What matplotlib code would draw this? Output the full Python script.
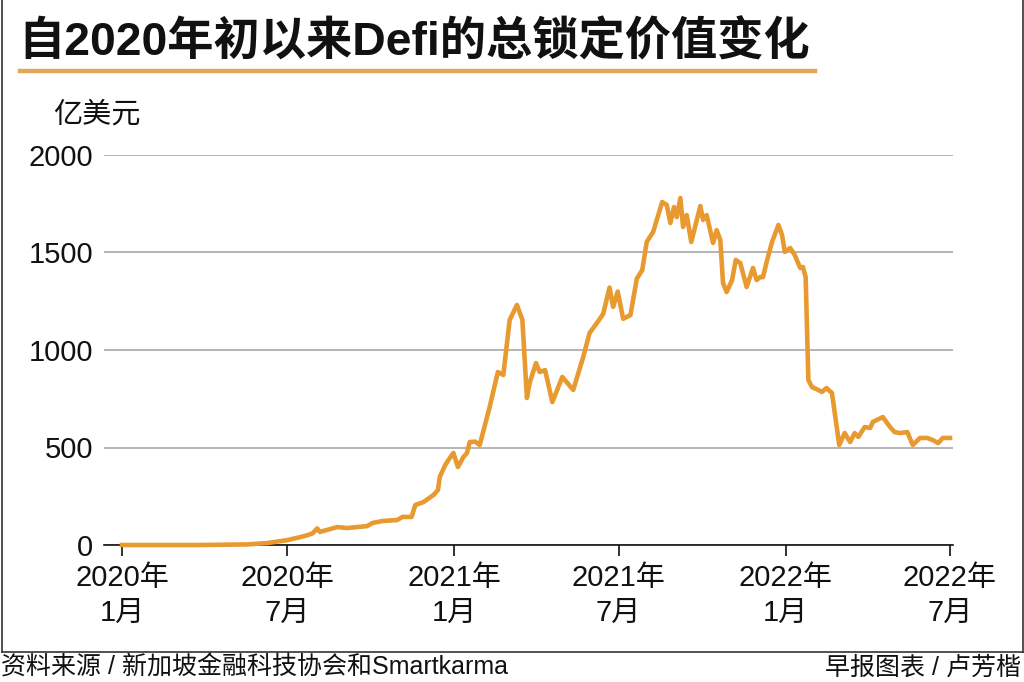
import matplotlib
matplotlib.use("Agg")
import matplotlib.pyplot as plt
from matplotlib.lines import Line2D
import pandas as pd

plt.rcParams['font.family'] = ['Liberation Sans', 'Noto Sans CJK SC', 'DejaVu Sans']

title = "自2020年初以来Defi的总锁定价值变化"
unit_label = "亿美元"
source_text = "资料来源 / 新加坡金融科技协会和Smartkarma"
credit_text = "早报图表 / 卢芳楷"

dates = [
    "2020-01-01", "2020-03-27", "2020-05-18", "2020-06-09", "2020-07-01", "2020-07-15",
    "2020-07-23", "2020-07-29", "2020-08-03", "2020-08-06", "2020-08-25", "2020-09-05",
    "2020-09-27", "2020-10-03", "2020-10-14", "2020-10-30", "2020-11-05", "2020-11-15",
    "2020-11-19", "2020-11-28", "2020-12-09", "2020-12-14", "2020-12-16", "2020-12-22",
    "2020-12-27", "2020-12-31", "2021-01-05", "2021-01-11", "2021-01-15", "2021-01-18",
    "2021-01-24", "2021-01-29", "2021-02-09", "2021-02-18", "2021-02-24", "2021-03-03",
    "2021-03-11", "2021-03-17", "2021-03-22", "2021-03-25", "2021-04-01", "2021-04-05",
    "2021-04-11", "2021-04-19", "2021-04-30", "2021-05-12", "2021-05-23", "2021-05-30",
    "2021-06-07", "2021-06-14", "2021-06-21", "2021-06-25", "2021-06-30", "2021-07-06",
    "2021-07-14", "2021-07-21", "2021-07-27", "2021-08-01", "2021-08-08", "2021-08-18",
    "2021-08-23", "2021-08-27", "2021-08-31", "2021-09-03", "2021-09-07", "2021-09-10",
    "2021-09-14", "2021-09-19", "2021-09-29", "2021-10-02", "2021-10-06", "2021-10-13",
    "2021-10-17", "2021-10-21", "2021-10-24", "2021-10-28", "2021-11-03", "2021-11-07",
    "2021-11-12", "2021-11-19", "2021-11-26", "2021-11-30", "2021-12-04", "2021-12-07",
    "2021-12-11", "2021-12-17", "2021-12-24", "2021-12-28", "2021-12-31", "2022-01-06",
    "2022-01-11", "2022-01-17", "2022-01-20", "2022-01-23", "2022-01-26", "2022-01-30",
    "2022-02-06", "2022-02-10", "2022-02-15", "2022-02-21", "2022-03-01", "2022-03-07",
    "2022-03-13", "2022-03-18", "2022-03-22", "2022-03-29", "2022-04-04", "2022-04-07",
    "2022-04-18", "2022-04-26", "2022-05-01", "2022-05-07", "2022-05-15", "2022-05-21",
    "2022-05-29", "2022-06-06", "2022-06-12", "2022-06-18", "2022-06-23", "2022-07-01",
]
tvl = [
    0, 0, 3, 10, 25, 40,
    50, 60, 85, 67, 92, 87,
    97, 113, 123, 128, 144, 144,
    205, 220, 256, 282, 349, 410,
    446, 472, 400, 451, 472, 528,
    530, 513, 708, 887, 872, 1154,
    1231, 1154, 754, 831, 933, 887,
    897, 733, 862, 795, 964, 1087,
    1138, 1185, 1320, 1221, 1300, 1160,
    1179, 1365, 1410, 1555, 1605, 1759,
    1744, 1651, 1733, 1682, 1779, 1631,
    1692, 1554, 1738, 1667, 1692, 1549,
    1615, 1564, 1344, 1297, 1359, 1462,
    1446, 1323, 1421, 1359, 1374, 1374,
    1451, 1554, 1641, 1590, 1503, 1523,
    1487, 1421, 1426, 1374, 846, 810,
    795, 785, 805, 779, 513, 574,
    528, 574, 554, 605, 600, 631,
    656, 605, 579, 574, 579, 513,
    549, 549, 538, 523, 549, 549,
]

yticks = [0, 500, 1000, 1500, 2000]
xtick_dates = ["2020-01-01", "2020-07-01", "2021-01-01", "2021-07-01", "2022-01-01", "2022-07-01"]
xtick_labels = ["2020年\n1月", "2020年\n7月", "2021年\n1月", "2021年\n7月", "2022年\n1月", "2022年\n7月"]

W, H = 1024, 682
fig = plt.figure(figsize=(W / 100, H / 100), dpi=100)
fig.patch.set_facecolor("white")

ax_l, ax_r, ax_b, ax_t = 104, 953, 545, 155
ax = fig.add_axes([ax_l / W, 1 - ax_b / H, (ax_r - ax_l) / W, (ax_b - ax_t) / H])

x = pd.to_datetime(dates)
ax.plot(x, tvl, color="#E8992F", lw=3.3, solid_joinstyle="round", zorder=3, clip_on=False)

start = pd.Timestamp("2020-01-01")
end = pd.Timestamp("2022-07-01")
px_per_day = (950 - 122) / (end - start).days
ax.set_xlim(start - pd.Timedelta(days=(122 - ax_l) / px_per_day),
            end + pd.Timedelta(days=(ax_r - 950) / px_per_day))
ax.set_ylim(0, 2000)

ax.set_yticks(yticks)
ax.set_yticklabels([str(v) for v in yticks])
ax.yaxis.grid(True, color="#A0A0A0", lw=1.1)
ax.set_axisbelow(True)
ax.tick_params(axis="y", length=0, pad=8, labelsize=21, colors="#111111")

ax.set_xticks(pd.to_datetime(xtick_dates))
ax.set_xticklabels(xtick_labels, linespacing=1.3)
ax.tick_params(axis="x", length=8, width=1.2, direction="out", pad=6, labelsize=21,
               colors="#111111")

for s in ["left", "right", "top"]:
    ax.spines[s].set_visible(False)
ax.spines["bottom"].set_color("#111111")
ax.spines["bottom"].set_linewidth(1.2)

fig.text(18 / W, 1 - 43 / H, title, fontsize=33.3, fontweight="heavy", color="#111111",
         ha="left", va="center")
fig.add_artist(Line2D([20 / W, 815 / W], [1 - 71 / H, 1 - 71 / H], color="#E3A857", lw=3.2))

fig.text(53 / W, 1 - 115 / H, unit_label, fontsize=21, color="#111111", ha="left", va="center")

fc = "#333333"
fig.add_artist(Line2D([1.5 / W, 1.5 / W], [1 - 652 / H, 1], color=fc, lw=1.2))
fig.add_artist(Line2D([1.5 / W, 1022.5 / W], [1 - 652 / H, 1 - 652 / H], color=fc, lw=1.2))
fig.add_artist(Line2D([1022.5 / W, 1022.5 / W], [1 - 652 / H, 1], color=fc, lw=1.2))

fig.text(1 / W, 1 - 675 / H, source_text, fontsize=18, color="#111111", ha="left", va="baseline")
fig.text(1021 / W, 1 - 675 / H, credit_text, fontsize=18, color="#111111", ha="right", va="baseline")

fig.savefig("out.png", dpi=100, facecolor="white")
